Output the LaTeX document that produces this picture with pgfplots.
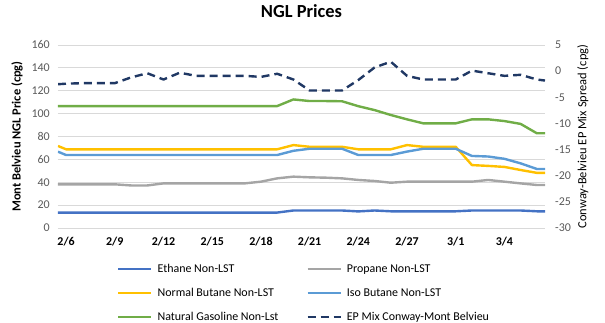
\documentclass[border=0pt]{standalone}
\usepackage{fontspec}
\setmainfont{Carlito}
\usepackage{pgfplots}
\pgfplotsset{compat=1.18}
\usepackage{pgfplotstable}
\definecolor{cEth}{HTML}{4472C4}
\definecolor{cPro}{HTML}{A5A5A5}
\definecolor{cNbu}{HTML}{FFC000}
\definecolor{cIbu}{HTML}{5B9BD5}
\definecolor{cNg}{HTML}{70AD47}
\definecolor{cEp}{HTML}{203864}
\definecolor{cGrid}{HTML}{D9D9D9}
\definecolor{cTick}{HTML}{595959}

\pgfplotstableread{
x eth pro nbu ibu ngas ep
-0.5 13.5 38.2 71.7 66.7 106.6 -2.5
0 13.5 38.2 68.8 63.8 106.6 -2.4
1 13.5 38.2 68.8 63.8 106.6 -2.3
2 13.5 38.2 68.8 63.8 106.6 -2.3
3 13.5 38.2 68.8 63.8 106.6 -2.3
4 13.5 37.2 68.8 63.8 106.6 -1.2
5 13.5 37.2 68.8 63.8 106.6 -0.4
6 13.5 39.0 68.8 63.8 106.6 -1.6
7 13.5 39.0 68.8 63.8 106.6 -0.3
8 13.5 39.0 68.8 63.8 106.6 -0.9
9 13.5 39.0 68.8 63.8 106.6 -0.9
10 13.5 39.0 68.8 63.8 106.6 -0.9
11 13.5 39.0 68.8 63.8 106.6 -0.9
12 13.5 40.5 68.8 63.8 106.6 -1.1
13 13.5 43.4 68.8 63.8 106.6 -0.5
14 15.3 44.9 72.5 67.5 112.4 -1.6
15 15.3 44.3 71.0 69.3 111.0 -3.7
16 15.3 44.0 71.0 69.3 111.0 -3.7
17 15.3 43.4 71.0 69.3 110.8 -3.7
18 14.5 42.0 68.8 63.8 106.5 -1.7
19 15.3 41.1 68.8 63.8 103.1 0.7
20 14.6 39.6 68.8 63.8 98.8 1.8
21 14.6 40.5 72.5 66.8 95.0 -0.9
22 14.6 40.5 71.0 69.3 91.5 -1.6
23 14.6 40.5 71.0 69.3 91.5 -1.6
24 14.6 40.5 71.0 69.3 91.5 -1.6
25 15.3 40.5 55.0 63.0 95.0 0.1
26 15.3 42.0 54.3 62.5 95.0 -0.4
27 15.3 40.5 53.4 60.5 93.5 -0.9
28 15.3 39.0 50.7 56.5 91.0 -0.7
29 14.6 37.6 48.2 51.6 82.8 -1.6
29.5 14.6 37.6 48.2 51.6 82.8 -1.8
}\data

\begin{document}
\fontsize{12}{14}\selectfont
\begin{tikzpicture}
\pgfplotsset{
  base/.style={
    scale only axis, width=487bp, height=183bp,
    xmin=-0.5, xmax=29.5,
    axis line style={draw=none},
    major tick length=0pt, minor tick length=0pt,
    /pgf/number format/assume math mode=true,
    tick label style={font=\fontsize{12}{14}\selectfont},
  },
  sline/.style={line width=2.4bp, line join=round},
  legend image code/.code={\draw[#1] (0bp,0bp) -- (33bp,0bp);},
}
\path[use as bounding box] (-58bp,-95bp) rectangle (547bp,228bp);
\begin{axis}[base,
  ymin=0, ymax=160, ytick={0,20,...,160},
  ymajorgrids, grid style={cGrid, line width=0.75bp},
  xtick={0,3,...,27},
  xticklabels={2/6,2/9,2/12,2/15,2/18,2/21,2/24,2/27,3/1,3/4},
  xticklabel style={inner sep=0pt, anchor=north, yshift=-9bp, font=\fontsize{12}{14}\selectfont\bfseries, text=black},
  yticklabel style={inner sep=0pt, anchor=east, xshift=-8bp, text=cTick},
  ylabel={Mont Belvieu NGL Price (cpg)},
  ylabel style={at={([xshift=-41bp]axis description cs:0,0.5)}, anchor=center, rotate=0, font=\fontsize{12.5}{14}\selectfont\bfseries, inner sep=0pt},
  title={NGL Prices},
  title style={at={([yshift=28bp]axis description cs:0.5,1)}, anchor=center, font=\fontsize{18.5}{20}\selectfont\bfseries, inner sep=0pt},
]
\addplot[sline, cEth] table[x=x, y=eth] {\data};
\addplot[sline, cPro] table[x=x, y=pro] {\data};
\addplot[sline, cNbu] table[x=x, y=nbu] {\data};
\addplot[sline, cIbu] table[x=x, y=ibu] {\data};
\addplot[sline, cNg] table[x=x, y=ngas] {\data};
\end{axis}
\begin{axis}[base,
  ymin=-30, ymax=5, ytick={-30,-25,...,5},
  axis y line*=right, hide x axis,
  yticklabel style={inner sep=0pt, anchor=west, xshift=10bp, text=cTick},
  ylabel={Conway-Belvieu EP Mix Spread (cpg)},
  ylabel style={at={([xshift=38bp]axis description cs:1,0.5)}, anchor=center, rotate=0, font=\fontsize{12.5}{14}\selectfont, inner sep=0pt},
  legend columns=2,
  legend cell align=left,
  legend style={at={(0.1211,-0.194)}, anchor=north west, draw=none, fill=none,
    inner sep=0pt, font=\fontsize{12}{14}\selectfont,
    nodes={inner sep=0pt, text height=8.5bp, text depth=2.5bp},
    /tikz/row sep=13bp,
    /tikz/every odd column/.append style={column sep=5bp},
    /tikz/every even column/.append style={column sep=28bp}},
]
\addlegendimage{sline, cEth}\addlegendentry{Ethane Non-LST}
\addlegendimage{sline, cPro}\addlegendentry{Propane Non-LST}
\addlegendimage{sline, cNbu}\addlegendentry{Normal Butane Non-LST}
\addlegendimage{sline, cIbu}\addlegendentry{Iso Butane Non-LST}
\addlegendimage{sline, cNg}\addlegendentry{Natural Gasoline Non-Lst}
\addplot[sline, cEp, dash pattern=on 8bp off 5bp] table[x=x, y=ep] {\data};
\addlegendentry{EP Mix Conway-Mont Belvieu}
\end{axis}
\end{tikzpicture}
\end{document}
